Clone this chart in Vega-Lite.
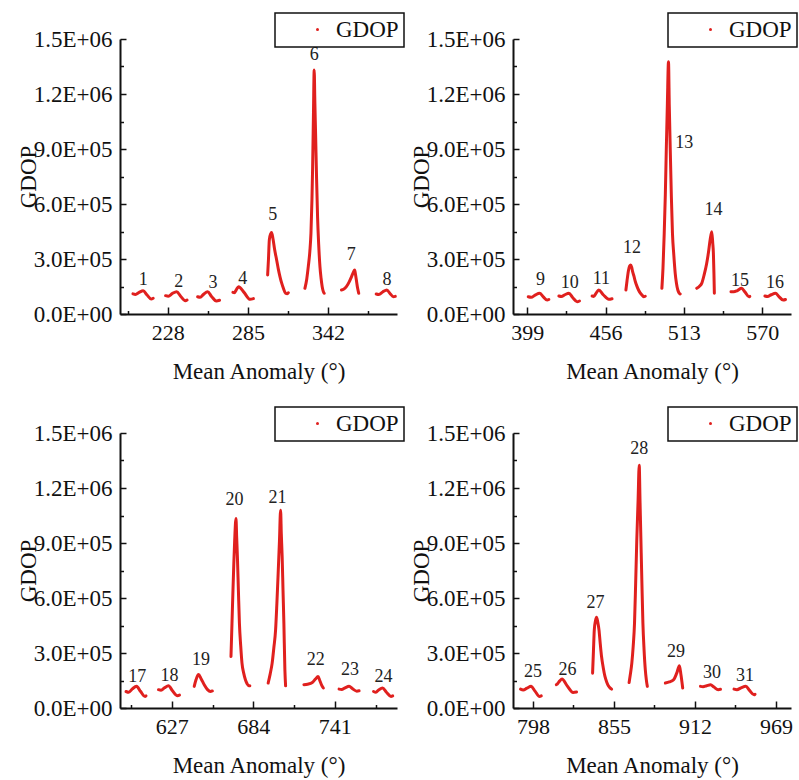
{
  "$schema": "https://vega.github.io/schema/vega-lite/v6.json",
  "background": "white",
  "padding": {"left": 17, "top": 12, "right": 5, "bottom": 5},
  "bounds": "flush",
  "columns": 2,
  "spacing": {"row": 119, "column": 116},
  "resolve": {"scale": {"color": "independent", "x": "independent"}, "legend": {"color": "independent"}},
  "datasets": {
    "curves": [
      {"p":1,"s":1,"x":203.2,"y":110000},{"p":1,"s":1,"x":205.0,"y":107000},{"p":1,"s":1,"x":207.6,"y":118000},{"p":1,"s":1,"x":210.5,"y":127000},{"p":1,"s":1,"x":213.1,"y":105000},{"p":1,"s":1,"x":216.2,"y":82000},{"p":1,"s":1,"x":217.6,"y":86000},
      {"p":1,"s":2,"x":226.4,"y":100000},{"p":1,"s":2,"x":228.4,"y":97000},{"p":1,"s":2,"x":231.1,"y":111000},{"p":1,"s":2,"x":234.3,"y":122000},{"p":1,"s":2,"x":237.1,"y":97000},{"p":1,"s":2,"x":240.5,"y":72000},{"p":1,"s":2,"x":241.7,"y":76000},
      {"p":1,"s":3,"x":249.2,"y":94000},{"p":1,"s":3,"x":251.0,"y":91000},{"p":1,"s":3,"x":253.5,"y":108000},{"p":1,"s":3,"x":256.3,"y":122000},{"p":1,"s":3,"x":259.1,"y":96000},{"p":1,"s":3,"x":262.5,"y":71000},{"p":1,"s":3,"x":264.8,"y":75000},
      {"p":1,"s":4,"x":274.3,"y":118000},{"p":1,"s":4,"x":275.3,"y":116000},{"p":1,"s":4,"x":276.7,"y":132000},{"p":1,"s":4,"x":278.3,"y":149000},{"p":1,"s":4,"x":282.2,"y":118000},{"p":1,"s":4,"x":286.5,"y":80000},{"p":1,"s":4,"x":288.9,"y":84000},
      {"p":1,"s":5,"x":299.0,"y":213000},{"p":1,"s":5,"x":299.6,"y":300000},{"p":1,"s":5,"x":300.2,"y":404000},{"p":1,"s":5,"x":301.2,"y":438000},{"p":1,"s":5,"x":301.8,"y":444000},{"p":1,"s":5,"x":302.8,"y":410000},{"p":1,"s":5,"x":304.0,"y":350000},{"p":1,"s":5,"x":305.4,"y":295000},{"p":1,"s":5,"x":306.6,"y":245000},{"p":1,"s":5,"x":307.8,"y":203000},{"p":1,"s":5,"x":309.0,"y":168000},{"p":1,"s":5,"x":310.2,"y":140000},{"p":1,"s":5,"x":311.8,"y":113000},{"p":1,"s":5,"x":313.0,"y":110000},{"p":1,"s":5,"x":313.7,"y":116000},
      {"p":1,"s":6,"x":325.5,"y":140000},{"p":1,"s":6,"x":326.8,"y":190000},{"p":1,"s":6,"x":327.9,"y":258000},{"p":1,"s":6,"x":329.0,"y":340000},{"p":1,"s":6,"x":329.8,"y":440000},{"p":1,"s":6,"x":330.5,"y":620000},{"p":1,"s":6,"x":331.0,"y":803000},{"p":1,"s":6,"x":331.6,"y":1100000},{"p":1,"s":6,"x":332.1,"y":1331000},{"p":1,"s":6,"x":332.6,"y":1150000},{"p":1,"s":6,"x":333.1,"y":985000},{"p":1,"s":6,"x":333.8,"y":740000},{"p":1,"s":6,"x":334.5,"y":531000},{"p":1,"s":6,"x":335.3,"y":380000},{"p":1,"s":6,"x":336.2,"y":258000},{"p":1,"s":6,"x":337.0,"y":195000},{"p":1,"s":6,"x":337.8,"y":149000},{"p":1,"s":6,"x":338.5,"y":125000},{"p":1,"s":6,"x":339.2,"y":113000},
      {"p":1,"s":7,"x":351.5,"y":131000},{"p":1,"s":7,"x":353.0,"y":135000},{"p":1,"s":7,"x":355.0,"y":149000},{"p":1,"s":7,"x":357.0,"y":175000},{"p":1,"s":7,"x":358.6,"y":203000},{"p":1,"s":7,"x":360.0,"y":228000},{"p":1,"s":7,"x":360.9,"y":240000},{"p":1,"s":7,"x":361.5,"y":215000},{"p":1,"s":7,"x":362.1,"y":185000},{"p":1,"s":7,"x":363.0,"y":140000},{"p":1,"s":7,"x":363.8,"y":113000},
      {"p":1,"s":8,"x":376.2,"y":109000},{"p":1,"s":8,"x":378.1,"y":106000},{"p":1,"s":8,"x":380.8,"y":120000},{"p":1,"s":8,"x":383.8,"y":131000},{"p":1,"s":8,"x":386.0,"y":112000},{"p":1,"s":8,"x":388.5,"y":94000},{"p":1,"s":8,"x":389.8,"y":96000},
      {"p":2,"s":9,"x":399.7,"y":94000},{"p":2,"s":9,"x":401.8,"y":91000},{"p":2,"s":9,"x":404.7,"y":103000},{"p":2,"s":9,"x":408.0,"y":113000},{"p":2,"s":9,"x":410.5,"y":95000},{"p":2,"s":9,"x":413.5,"y":76000},{"p":2,"s":9,"x":414.7,"y":79000},
      {"p":2,"s":10,"x":422.0,"y":98000},{"p":2,"s":10,"x":423.8,"y":95000},{"p":2,"s":10,"x":426.4,"y":105000},{"p":2,"s":10,"x":429.3,"y":113000},{"p":2,"s":10,"x":432.0,"y":90000},{"p":2,"s":10,"x":435.3,"y":67000},{"p":2,"s":10,"x":437.0,"y":71000},
      {"p":2,"s":11,"x":446.2,"y":98000},{"p":2,"s":11,"x":447.4,"y":96000},{"p":2,"s":11,"x":449.1,"y":114000},{"p":2,"s":11,"x":451.0,"y":131000},{"p":2,"s":11,"x":454.3,"y":105000},{"p":2,"s":11,"x":458.3,"y":80000},{"p":2,"s":11,"x":460.7,"y":83000},
      {"p":2,"s":12,"x":470.8,"y":131000},{"p":2,"s":12,"x":471.6,"y":180000},{"p":2,"s":12,"x":472.6,"y":235000},{"p":2,"s":12,"x":473.5,"y":262000},{"p":2,"s":12,"x":474.3,"y":267000},{"p":2,"s":12,"x":475.0,"y":255000},{"p":2,"s":12,"x":475.7,"y":231000},{"p":2,"s":12,"x":476.7,"y":205000},{"p":2,"s":12,"x":477.7,"y":176000},{"p":2,"s":12,"x":478.8,"y":152000},{"p":2,"s":12,"x":480.0,"y":131000},{"p":2,"s":12,"x":481.2,"y":115000},{"p":2,"s":12,"x":482.5,"y":104000},{"p":2,"s":12,"x":483.7,"y":94000},{"p":2,"s":12,"x":484.9,"y":97000},
      {"p":2,"s":13,"x":497.0,"y":140000},{"p":2,"s":13,"x":497.8,"y":250000},{"p":2,"s":13,"x":498.7,"y":440000},{"p":2,"s":13,"x":499.5,"y":650000},{"p":2,"s":13,"x":500.2,"y":895000},{"p":2,"s":13,"x":501.0,"y":1150000},{"p":2,"s":13,"x":501.8,"y":1376000},{"p":2,"s":13,"x":502.4,"y":1130000},{"p":2,"s":13,"x":503.1,"y":895000},{"p":2,"s":13,"x":503.9,"y":640000},{"p":2,"s":13,"x":504.7,"y":440000},{"p":2,"s":13,"x":505.7,"y":320000},{"p":2,"s":13,"x":506.7,"y":222000},{"p":2,"s":13,"x":507.6,"y":168000},{"p":2,"s":13,"x":508.6,"y":131000},{"p":2,"s":13,"x":509.5,"y":115000},{"p":2,"s":13,"x":510.3,"y":109000},
      {"p":2,"s":14,"x":522.4,"y":140000},{"p":2,"s":14,"x":524.2,"y":150000},{"p":2,"s":14,"x":526.0,"y":167000},{"p":2,"s":14,"x":527.8,"y":215000},{"p":2,"s":14,"x":529.6,"y":276000},{"p":2,"s":14,"x":530.9,"y":335000},{"p":2,"s":14,"x":532.1,"y":404000},{"p":2,"s":14,"x":533.3,"y":449000},{"p":2,"s":14,"x":534.0,"y":390000},{"p":2,"s":14,"x":534.5,"y":331000},{"p":2,"s":14,"x":534.9,"y":220000},{"p":2,"s":14,"x":535.2,"y":113000},
      {"p":2,"s":15,"x":547.3,"y":122000},{"p":2,"s":15,"x":549.3,"y":121000},{"p":2,"s":15,"x":552.0,"y":128000},{"p":2,"s":15,"x":555.0,"y":140000},{"p":2,"s":15,"x":557.5,"y":120000},{"p":2,"s":15,"x":560.4,"y":94000},{"p":2,"s":15,"x":561.0,"y":96000},
      {"p":2,"s":16,"x":572.0,"y":98000},{"p":2,"s":16,"x":573.9,"y":95000},{"p":2,"s":16,"x":576.6,"y":105000},{"p":2,"s":16,"x":579.7,"y":113000},{"p":2,"s":16,"x":582.2,"y":95000},{"p":2,"s":16,"x":585.3,"y":76000},{"p":2,"s":16,"x":587.0,"y":79000},
      {"p":3,"s":17,"x":595.0,"y":90000},{"p":3,"s":17,"x":596.9,"y":86000},{"p":3,"s":17,"x":599.4,"y":104000},{"p":3,"s":17,"x":602.4,"y":118000},{"p":3,"s":17,"x":605.1,"y":91000},{"p":3,"s":17,"x":608.3,"y":63000},{"p":3,"s":17,"x":609.0,"y":66000},
      {"p":3,"s":18,"x":617.7,"y":100000},{"p":3,"s":18,"x":619.5,"y":97000},{"p":3,"s":18,"x":621.9,"y":110000},{"p":3,"s":18,"x":624.7,"y":121000},{"p":3,"s":18,"x":627.5,"y":94000},{"p":3,"s":18,"x":631.0,"y":67000},{"p":3,"s":18,"x":632.4,"y":70000},
      {"p":3,"s":19,"x":642.7,"y":118000},{"p":3,"s":19,"x":644.0,"y":155000},{"p":3,"s":19,"x":645.7,"y":183000},{"p":3,"s":19,"x":647.5,"y":160000},{"p":3,"s":19,"x":649.8,"y":125000},{"p":3,"s":19,"x":652.0,"y":100000},{"p":3,"s":19,"x":654.0,"y":90000},{"p":3,"s":19,"x":655.4,"y":93000},
      {"p":3,"s":20,"x":668.4,"y":281000},{"p":3,"s":20,"x":669.1,"y":460000},{"p":3,"s":20,"x":669.8,"y":644000},{"p":3,"s":20,"x":670.4,"y":790000},{"p":3,"s":20,"x":671.0,"y":916000},{"p":3,"s":20,"x":671.9,"y":1034000},{"p":3,"s":20,"x":672.4,"y":930000},{"p":3,"s":20,"x":672.9,"y":825000},{"p":3,"s":20,"x":673.6,"y":640000},{"p":3,"s":20,"x":674.3,"y":463000},{"p":3,"s":20,"x":675.2,"y":340000},{"p":3,"s":20,"x":676.1,"y":245000},{"p":3,"s":20,"x":677.3,"y":190000},{"p":3,"s":20,"x":678.5,"y":154000},{"p":3,"s":20,"x":679.7,"y":132000},{"p":3,"s":20,"x":680.8,"y":121000},{"p":3,"s":20,"x":681.6,"y":121000},
      {"p":3,"s":21,"x":694.4,"y":136000},{"p":3,"s":21,"x":695.8,"y":185000},{"p":3,"s":21,"x":697.2,"y":245000},{"p":3,"s":21,"x":698.4,"y":330000},{"p":3,"s":21,"x":699.6,"y":426000},{"p":3,"s":21,"x":700.5,"y":570000},{"p":3,"s":21,"x":701.4,"y":735000},{"p":3,"s":21,"x":702.3,"y":910000},{"p":3,"s":21,"x":703.1,"y":1079000},{"p":3,"s":21,"x":703.6,"y":950000},{"p":3,"s":21,"x":704.2,"y":825000},{"p":3,"s":21,"x":704.8,"y":640000},{"p":3,"s":21,"x":705.4,"y":463000},{"p":3,"s":21,"x":706.1,"y":208000},{"p":3,"s":21,"x":706.6,"y":121000},
      {"p":3,"s":22,"x":719.4,"y":127000},{"p":3,"s":22,"x":722.0,"y":130000},{"p":3,"s":22,"x":725.3,"y":139000},{"p":3,"s":22,"x":727.5,"y":158000},{"p":3,"s":22,"x":729.3,"y":172000},{"p":3,"s":22,"x":730.5,"y":150000},{"p":3,"s":22,"x":731.8,"y":125000},{"p":3,"s":22,"x":733.0,"y":109000},
      {"p":3,"s":23,"x":744.0,"y":103000},{"p":3,"s":23,"x":745.8,"y":101000},{"p":3,"s":23,"x":748.2,"y":110000},{"p":3,"s":23,"x":751.0,"y":118000},{"p":3,"s":23,"x":753.4,"y":105000},{"p":3,"s":23,"x":756.4,"y":92000},{"p":3,"s":23,"x":758.0,"y":94000},
      {"p":3,"s":24,"x":768.1,"y":90000},{"p":3,"s":24,"x":769.7,"y":86000},{"p":3,"s":24,"x":771.9,"y":100000},{"p":3,"s":24,"x":774.4,"y":109000},{"p":3,"s":24,"x":777.1,"y":86000},{"p":3,"s":24,"x":780.3,"y":63000},{"p":3,"s":24,"x":781.5,"y":66000},
      {"p":4,"s":25,"x":789.3,"y":103000},{"p":4,"s":25,"x":791.2,"y":98000},{"p":4,"s":25,"x":793.8,"y":108000},{"p":4,"s":25,"x":796.8,"y":118000},{"p":4,"s":25,"x":799.5,"y":92000},{"p":4,"s":25,"x":802.7,"y":63000},{"p":4,"s":25,"x":803.9,"y":66000},
      {"p":4,"s":26,"x":814.5,"y":127000},{"p":4,"s":26,"x":815.5,"y":134000},{"p":4,"s":26,"x":816.9,"y":148000},{"p":4,"s":26,"x":818.5,"y":158000},{"p":4,"s":26,"x":822.0,"y":122000},{"p":4,"s":26,"x":826.3,"y":85000},{"p":4,"s":26,"x":828.7,"y":87000},
      {"p":4,"s":27,"x":840.0,"y":190000},{"p":4,"s":27,"x":840.6,"y":310000},{"p":4,"s":27,"x":841.2,"y":426000},{"p":4,"s":27,"x":842.0,"y":475000},{"p":4,"s":27,"x":842.8,"y":495000},{"p":4,"s":27,"x":843.6,"y":470000},{"p":4,"s":27,"x":844.5,"y":426000},{"p":4,"s":27,"x":845.4,"y":350000},{"p":4,"s":27,"x":846.3,"y":281000},{"p":4,"s":27,"x":847.5,"y":220000},{"p":4,"s":27,"x":848.7,"y":172000},{"p":4,"s":27,"x":849.9,"y":142000},{"p":4,"s":27,"x":851.1,"y":121000},{"p":4,"s":27,"x":852.3,"y":110000},{"p":4,"s":27,"x":853.4,"y":103000},
      {"p":4,"s":28,"x":865.7,"y":139000},{"p":4,"s":28,"x":866.6,"y":185000},{"p":4,"s":28,"x":867.6,"y":245000},{"p":4,"s":28,"x":868.6,"y":340000},{"p":4,"s":28,"x":869.5,"y":463000},{"p":4,"s":28,"x":870.3,"y":680000},{"p":4,"s":28,"x":871.1,"y":916000},{"p":4,"s":28,"x":872.0,"y":1130000},{"p":4,"s":28,"x":872.8,"y":1324000},{"p":4,"s":28,"x":873.4,"y":1120000},{"p":4,"s":28,"x":874.0,"y":916000},{"p":4,"s":28,"x":874.7,"y":680000},{"p":4,"s":28,"x":875.4,"y":463000},{"p":4,"s":28,"x":876.2,"y":320000},{"p":4,"s":28,"x":877.1,"y":208000},{"p":4,"s":28,"x":877.8,"y":155000},{"p":4,"s":28,"x":878.5,"y":118000},
      {"p":4,"s":29,"x":891.2,"y":136000},{"p":4,"s":29,"x":894.0,"y":142000},{"p":4,"s":29,"x":897.0,"y":154000},{"p":4,"s":29,"x":899.2,"y":190000},{"p":4,"s":29,"x":901.1,"y":230000},{"p":4,"s":29,"x":902.2,"y":180000},{"p":4,"s":29,"x":902.9,"y":140000},{"p":4,"s":29,"x":903.4,"y":109000},
      {"p":4,"s":30,"x":915.9,"y":118000},{"p":4,"s":30,"x":917.7,"y":116000},{"p":4,"s":30,"x":920.2,"y":121000},{"p":4,"s":30,"x":923.0,"y":127000},{"p":4,"s":30,"x":925.4,"y":114000},{"p":4,"s":30,"x":928.4,"y":100000},{"p":4,"s":30,"x":930.0,"y":102000},
      {"p":4,"s":31,"x":939.5,"y":103000},{"p":4,"s":31,"x":941.6,"y":100000},{"p":4,"s":31,"x":944.5,"y":110000},{"p":4,"s":31,"x":947.8,"y":118000},{"p":4,"s":31,"x":950.4,"y":96000},{"p":4,"s":31,"x":953.6,"y":72000},{"p":4,"s":31,"x":954.3,"y":75000}
    ],
    "labels": [
      {"p":1,"n":"1","x":210.5,"y":185000},{"p":1,"n":"2","x":235.8,"y":176000},{"p":1,"n":"3","x":260.1,"y":167000},{"p":1,"n":"4","x":281.3,"y":191000},{"p":1,"n":"5","x":302.6,"y":540000},{"p":1,"n":"6","x":332.1,"y":1413000},{"p":1,"n":"7","x":358.5,"y":322000},{"p":1,"n":"8","x":383.8,"y":185000},
      {"p":2,"n":"9","x":408.7,"y":185000},{"p":2,"n":"10","x":430.0,"y":171000},{"p":2,"n":"11","x":453.0,"y":189000},{"p":2,"n":"12","x":475.2,"y":358000},{"p":2,"n":"13","x":513.2,"y":934000},{"p":2,"n":"14","x":534.5,"y":567000},{"p":2,"n":"15","x":553.9,"y":180000},{"p":2,"n":"16","x":579.3,"y":171000},
      {"p":3,"n":"17","x":602.9,"y":169000},{"p":3,"n":"18","x":625.4,"y":176000},{"p":3,"n":"19","x":647.4,"y":263000},{"p":3,"n":"20","x":670.8,"y":1134000},{"p":3,"n":"21","x":701.0,"y":1143000},{"p":3,"n":"22","x":727.7,"y":263000},{"p":3,"n":"23","x":751.7,"y":205000},{"p":3,"n":"24","x":775.1,"y":169000},
      {"p":4,"n":"25","x":798.0,"y":194000},{"p":4,"n":"26","x":822.3,"y":208000},{"p":4,"n":"27","x":842.1,"y":572000},{"p":4,"n":"28","x":872.8,"y":1415000},{"p":4,"n":"29","x":898.7,"y":303000},{"p":4,"n":"30","x":924.1,"y":191000},{"p":4,"n":"31","x":947.3,"y":176000}
    ]
  },
  "concat": [
    {
      "width": 277, "height": 275,
      "resolve": {"axis": {"x": "independent", "y": "independent"}},
      "layer": [
        {"data": {"name": "curves"}, "transform": [{"filter": "datum.p == 1"}],
         "mark": {"type": "line", "strokeWidth": 3, "interpolate": "monotone", "strokeCap": "round", "strokeJoin": "round"},
         "encoding": {
           "x": {"field": "x", "type": "quantitative", "scale": {"domain": [194, 391], "nice": false, "zero": false},
                 "axis": {"values": [228, 285, 342], "title": "Mean Anomaly (°)", "orient": "bottom", "tickSize": -7, "tickWidth": 1.5, "domainWidth": 2, "labelPadding": 15, "titlePadding": 17, "labelFlush": false, "labelOverlap": false}},
           "y": {"field": "y", "type": "quantitative", "scale": {"domain": [0, 1500000], "nice": false},
                 "axis": {"values": [0, 300000, 600000, 900000, 1200000, 1500000], "labelExpr": "datum.value == 0 ? '0.0E+00' : datum.value >= 1000000 ? format(datum.value / 1000000, '.1f') + 'E+06' : format(datum.value / 100000, '.1f') + 'E+05'", "title": "GDOP", "orient": "left", "tickSize": -6, "tickWidth": 1.5, "domainWidth": 2, "labelPadding": 14, "labelFontSize": 23, "titlePadding": -7, "labelOverlap": false, "labelFlush": false}},
           "detail": {"field": "s"},
           "color": {"datum": "GDOP", "scale": {"range": ["#e0201e"]},
                     "legend": {"orient": "none", "legendX": 155, "legendY": -26, "title": null, "padding": 5, "strokeColor": "#111", "labelFont": "Liberation Serif", "labelFontSize": 23, "labelColor": "#111", "symbolType": "circle", "symbolSize": 9, "symbolOffset": 26, "labelOffset": 7,
                                "encode": {"symbols": {"update": {"fill": {"value": "#e0201e"}, "stroke": {"value": "#e0201e"}, "strokeWidth": {"value": 0}}}, "legend": {"update": {"strokeWidth": {"value": 1.5}}}}}}
         }},
        {"data": {"name": "labels"}, "transform": [{"filter": "datum.p == 1"}],
         "mark": {"type": "text", "font": "Liberation Serif", "fontSize": 18, "color": "#222"},
         "encoding": {
           "x": {"field": "x", "type": "quantitative", "axis": {"values": [199.5, 256.5, 313.5, 370.5], "orient": "bottom", "tickSize": -3.5, "tickWidth": 1.5, "labels": false, "domain": false, "title": null}},
           "y": {"field": "y", "type": "quantitative", "axis": {"values": [150000, 450000, 750000, 1050000, 1350000], "orient": "left", "tickSize": -3.5, "tickWidth": 1.5, "labels": false, "domain": false, "title": null}},
           "text": {"field": "n"}
         }}
      ]
    },
    {
      "width": 278, "height": 275,
      "resolve": {"axis": {"x": "independent", "y": "independent"}},
      "layer": [
        {"data": {"name": "curves"}, "transform": [{"filter": "datum.p == 2"}],
         "mark": {"type": "line", "strokeWidth": 3, "interpolate": "monotone", "strokeCap": "round", "strokeJoin": "round"},
         "encoding": {
           "x": {"field": "x", "type": "quantitative", "scale": {"domain": [388.6, 591], "nice": false, "zero": false},
                 "axis": {"values": [399, 456, 513, 570], "title": "Mean Anomaly (°)", "orient": "bottom", "tickSize": -7, "tickWidth": 1.5, "domainWidth": 2, "labelPadding": 15, "titlePadding": 17, "labelFlush": false, "labelOverlap": false}},
           "y": {"field": "y", "type": "quantitative", "scale": {"domain": [0, 1500000], "nice": false},
                 "axis": {"values": [0, 300000, 600000, 900000, 1200000, 1500000], "labelExpr": "datum.value == 0 ? '0.0E+00' : datum.value >= 1000000 ? format(datum.value / 1000000, '.1f') + 'E+06' : format(datum.value / 100000, '.1f') + 'E+05'", "title": "GDOP", "orient": "left", "tickSize": -6, "tickWidth": 1.5, "domainWidth": 2, "labelPadding": 14, "labelFontSize": 23, "titlePadding": -7, "labelOverlap": false, "labelFlush": false}},
           "detail": {"field": "s"},
           "color": {"datum": "GDOP", "scale": {"range": ["#e0201e"]},
                     "legend": {"orient": "none", "legendX": 155, "legendY": -26, "title": null, "padding": 5, "strokeColor": "#111", "labelFont": "Liberation Serif", "labelFontSize": 23, "labelColor": "#111", "symbolType": "circle", "symbolSize": 9, "symbolOffset": 26, "labelOffset": 7,
                                "encode": {"symbols": {"update": {"fill": {"value": "#e0201e"}, "stroke": {"value": "#e0201e"}, "strokeWidth": {"value": 0}}}, "legend": {"update": {"strokeWidth": {"value": 1.5}}}}}}
         }},
        {"data": {"name": "labels"}, "transform": [{"filter": "datum.p == 2"}],
         "mark": {"type": "text", "font": "Liberation Serif", "fontSize": 18, "color": "#222"},
         "encoding": {
           "x": {"field": "x", "type": "quantitative", "axis": {"values": [427.5, 484.5, 541.5], "orient": "bottom", "tickSize": -3.5, "tickWidth": 1.5, "labels": false, "domain": false, "title": null}},
           "y": {"field": "y", "type": "quantitative", "axis": {"values": [150000, 450000, 750000, 1050000, 1350000], "orient": "left", "tickSize": -3.5, "tickWidth": 1.5, "labels": false, "domain": false, "title": null}},
           "text": {"field": "n"}
         }}
      ]
    },
    {
      "width": 277, "height": 275,
      "resolve": {"axis": {"x": "independent", "y": "independent"}},
      "layer": [
        {"data": {"name": "curves"}, "transform": [{"filter": "datum.p == 3"}],
         "mark": {"type": "line", "strokeWidth": 3, "interpolate": "monotone", "strokeCap": "round", "strokeJoin": "round"},
         "encoding": {
           "x": {"field": "x", "type": "quantitative", "scale": {"domain": [590.8, 784.5], "nice": false, "zero": false},
                 "axis": {"values": [627, 684, 741], "title": "Mean Anomaly (°)", "orient": "bottom", "tickSize": -7, "tickWidth": 1.5, "domainWidth": 2, "labelPadding": 15, "titlePadding": 17, "labelFlush": false, "labelOverlap": false}},
           "y": {"field": "y", "type": "quantitative", "scale": {"domain": [0, 1500000], "nice": false},
                 "axis": {"values": [0, 300000, 600000, 900000, 1200000, 1500000], "labelExpr": "datum.value == 0 ? '0.0E+00' : datum.value >= 1000000 ? format(datum.value / 1000000, '.1f') + 'E+06' : format(datum.value / 100000, '.1f') + 'E+05'", "title": "GDOP", "orient": "left", "tickSize": -6, "tickWidth": 1.5, "domainWidth": 2, "labelPadding": 14, "labelFontSize": 23, "titlePadding": -7, "labelOverlap": false, "labelFlush": false}},
           "detail": {"field": "s"},
           "color": {"datum": "GDOP", "scale": {"range": ["#e0201e"]},
                     "legend": {"orient": "none", "legendX": 155, "legendY": -26, "title": null, "padding": 5, "strokeColor": "#111", "labelFont": "Liberation Serif", "labelFontSize": 23, "labelColor": "#111", "symbolType": "circle", "symbolSize": 9, "symbolOffset": 26, "labelOffset": 7,
                                "encode": {"symbols": {"update": {"fill": {"value": "#e0201e"}, "stroke": {"value": "#e0201e"}, "strokeWidth": {"value": 0}}}, "legend": {"update": {"strokeWidth": {"value": 1.5}}}}}}
         }},
        {"data": {"name": "labels"}, "transform": [{"filter": "datum.p == 3"}],
         "mark": {"type": "text", "font": "Liberation Serif", "fontSize": 18, "color": "#222"},
         "encoding": {
           "x": {"field": "x", "type": "quantitative", "axis": {"values": [598.5, 655.5, 712.5, 769.5], "orient": "bottom", "tickSize": -3.5, "tickWidth": 1.5, "labels": false, "domain": false, "title": null}},
           "y": {"field": "y", "type": "quantitative", "axis": {"values": [150000, 450000, 750000, 1050000, 1350000], "orient": "left", "tickSize": -3.5, "tickWidth": 1.5, "labels": false, "domain": false, "title": null}},
           "text": {"field": "n"}
         }}
      ]
    },
    {
      "width": 278, "height": 275,
      "resolve": {"axis": {"x": "independent", "y": "independent"}},
      "layer": [
        {"data": {"name": "curves"}, "transform": [{"filter": "datum.p == 4"}],
         "mark": {"type": "line", "strokeWidth": 3, "interpolate": "monotone", "strokeCap": "round", "strokeJoin": "round"},
         "encoding": {
           "x": {"field": "x", "type": "quantitative", "scale": {"domain": [784, 979.6], "nice": false, "zero": false},
                 "axis": {"values": [798, 855, 912, 969], "title": "Mean Anomaly (°)", "orient": "bottom", "tickSize": -7, "tickWidth": 1.5, "domainWidth": 2, "labelPadding": 15, "titlePadding": 17, "labelFlush": false, "labelOverlap": false}},
           "y": {"field": "y", "type": "quantitative", "scale": {"domain": [0, 1500000], "nice": false},
                 "axis": {"values": [0, 300000, 600000, 900000, 1200000, 1500000], "labelExpr": "datum.value == 0 ? '0.0E+00' : datum.value >= 1000000 ? format(datum.value / 1000000, '.1f') + 'E+06' : format(datum.value / 100000, '.1f') + 'E+05'", "title": "GDOP", "orient": "left", "tickSize": -6, "tickWidth": 1.5, "domainWidth": 2, "labelPadding": 14, "labelFontSize": 23, "titlePadding": -7, "labelOverlap": false, "labelFlush": false}},
           "detail": {"field": "s"},
           "color": {"datum": "GDOP", "scale": {"range": ["#e0201e"]},
                     "legend": {"orient": "none", "legendX": 155, "legendY": -26, "title": null, "padding": 5, "strokeColor": "#111", "labelFont": "Liberation Serif", "labelFontSize": 23, "labelColor": "#111", "symbolType": "circle", "symbolSize": 9, "symbolOffset": 26, "labelOffset": 7,
                                "encode": {"symbols": {"update": {"fill": {"value": "#e0201e"}, "stroke": {"value": "#e0201e"}, "strokeWidth": {"value": 0}}}, "legend": {"update": {"strokeWidth": {"value": 1.5}}}}}}
         }},
        {"data": {"name": "labels"}, "transform": [{"filter": "datum.p == 4"}],
         "mark": {"type": "text", "font": "Liberation Serif", "fontSize": 18, "color": "#222"},
         "encoding": {
           "x": {"field": "x", "type": "quantitative", "axis": {"values": [826.5, 883.5, 940.5], "orient": "bottom", "tickSize": -3.5, "tickWidth": 1.5, "labels": false, "domain": false, "title": null}},
           "y": {"field": "y", "type": "quantitative", "axis": {"values": [150000, 450000, 750000, 1050000, 1350000], "orient": "left", "tickSize": -3.5, "tickWidth": 1.5, "labels": false, "domain": false, "title": null}},
           "text": {"field": "n"}
         }}
      ]
    }
  ],
  "config": {
    "view": {"stroke": null},
    "font": "Liberation Serif",
    "axis": {"labelFont": "Liberation Serif", "titleFont": "Liberation Serif", "labelFontSize": 22, "titleFontSize": 23, "titleFontWeight": "normal", "labelColor": "#111", "titleColor": "#111", "domainColor": "#111", "tickColor": "#111", "grid": false}
  }
}
